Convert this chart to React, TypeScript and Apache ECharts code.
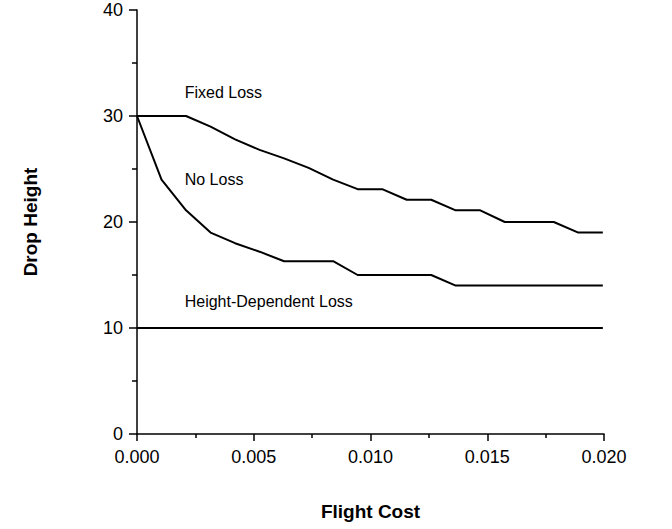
import React, { useEffect, useRef } from "react";
import * as echarts from "echarts";

const flightCost = [0, 0.00105, 0.0021, 0.00315, 0.0042, 0.00525, 0.0063, 0.00735, 0.0084, 0.00945, 0.0105, 0.01155, 0.0126, 0.01365, 0.0147, 0.01575, 0.0168, 0.01785, 0.0189, 0.01995];
const fixedLoss = [30, 30, 30, 29.0, 27.8, 26.8, 26.0, 25.1, 24.0, 23.1, 23.1, 22.1, 22.1, 21.1, 21.1, 20.0, 20.0, 20.0, 19.0, 19.0];
const noLoss = [30, 24.0, 21.1, 19.0, 18.0, 17.2, 16.3, 16.3, 16.3, 15.0, 15.0, 15.0, 15.0, 14.0, 14.0, 14.0, 14.0, 14.0, 14.0, 14.0];
const heightDependentLoss = [10, 10, 10, 10, 10, 10, 10, 10, 10, 10, 10, 10, 10, 10, 10, 10, 10, 10, 10, 10];
const seriesNames = ["Fixed Loss", "No Loss", "Height-Dependent Loss"];
const labelAnchors = [
  [0.002, 32.2],
  [0.002, 24.0],
  [0.002, 12.5],
];

const FONT = "'Liberation Sans', Arial, Helvetica, sans-serif";

export default function App() {
  const ref = useRef<HTMLDivElement>(null);
  useEffect(() => {
    if (!ref.current) return;
    const chart = echarts.init(ref.current, null, { renderer: "svg" });
    const pair = (ys: number[]) => flightCost.map((x, i) => [x, ys[i]]);
    const all = [fixedLoss, noLoss, heightDependentLoss];
    chart.setOption({
      animation: false,
      backgroundColor: "#fff",
      grid: { left: 137, right: 68, top: 10, bottom: 95 },
      xAxis: {
        type: "value",
        min: 0,
        max: 0.02,
        interval: 0.005,
        name: "Flight Cost",
        nameLocation: "middle",
        nameGap: 68,
        nameTextStyle: { fontFamily: FONT, fontSize: 19, fontWeight: "bold", color: "#000" },
        axisLine: { show: true, lineStyle: { color: "#000", width: 1.5 } },
        axisTick: { show: true, inside: false, length: 7, lineStyle: { color: "#000", width: 1.5 } },
        minorTick: { show: true, splitNumber: 2, length: 4, lineStyle: { color: "#000", width: 1.5 } },
        splitLine: { show: false },
        axisLabel: { fontFamily: FONT, fontSize: 18, color: "#000", margin: 14, formatter: (v: number) => v.toFixed(3) },
      },
      yAxis: {
        type: "value",
        min: 0,
        max: 40,
        interval: 10,
        name: "Drop Height",
        nameLocation: "middle",
        nameGap: 97,
        nameTextStyle: { fontFamily: FONT, fontSize: 19, fontWeight: "bold", color: "#000" },
        axisLine: { show: true, lineStyle: { color: "#000", width: 1.5 } },
        axisTick: { show: true, inside: false, length: 8, lineStyle: { color: "#000", width: 1.5 } },
        minorTick: { show: true, splitNumber: 2, length: 5, lineStyle: { color: "#000", width: 1.5 } },
        splitLine: { show: false },
        axisLabel: { fontFamily: FONT, fontSize: 18, color: "#000", margin: 14 },
      },
      series: all.map((ys, k) => ({
        name: seriesNames[k],
        type: "line",
        data: pair(ys),
        showSymbol: false,
        symbol: "none",
        lineStyle: { color: "#000", width: 2 },
      })),
    });
    const texts = seriesNames.map((name, k) => {
      const p = chart.convertToPixel({ gridIndex: 0 }, labelAnchors[k]) as number[];
      return {
        type: "text",
        x: p[0] + 1,
        y: p[1],
        style: { text: name, fontFamily: FONT, fontSize: 16, fill: "#000", verticalAlign: "middle", align: "left" },
      };
    });
    chart.setOption({ graphic: texts });
    return () => chart.dispose();
  }, []);
  return <div ref={ref} style={{ position: "absolute", left: 0, top: 0, width: 672, height: 529 }} />;
}
